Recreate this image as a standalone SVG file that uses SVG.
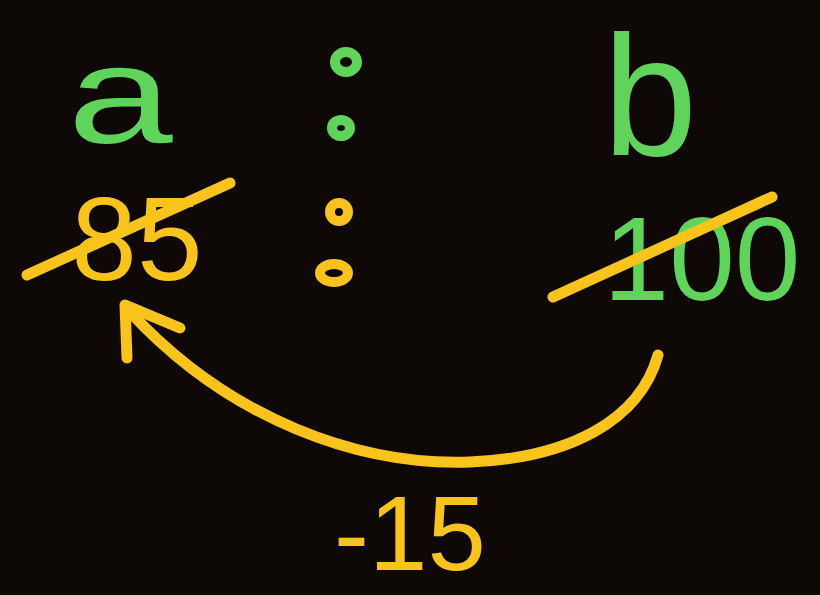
<svg xmlns="http://www.w3.org/2000/svg" width="820" height="595" viewBox="0 0 820 595">
<style>
.g{fill:#5fd35a;font-family:"Liberation Sans",Arial,sans-serif}
.y{fill:#f7c31c;font-family:"Liberation Sans",Arial,sans-serif}
.ys{stroke:#f7c31c;stroke-width:11;stroke-linecap:round;stroke-linejoin:round;fill:none}
.ring-g{fill:none;stroke:#5fd35a;stroke-width:10}
.ring-y{fill:none;stroke:#f7c31c;stroke-width:10}
</style>
<rect width="820" height="595" fill="#0e0807"/>
<g id="label-a"><text class="g" transform="translate(120,143) scale(1.35,1)" x="0" y="0" font-size="140" text-anchor="middle">a</text></g>
<g id="label-b"><text class="g" x="650" y="155" font-size="170" text-anchor="middle">b</text></g>
<g id="colon">
<ellipse class="ring-g" cx="346" cy="62" rx="11" ry="10"/>
<ellipse class="ring-g" cx="341" cy="128" rx="9" ry="8"/>
<ellipse class="ring-y" cx="339" cy="212" rx="9" ry="9"/>
<ellipse class="ring-y" cx="334" cy="273" rx="14" ry="9"/>
</g>
<g id="value-a"><text class="y" x="137" y="280" font-size="118" text-anchor="middle">85</text>
<line class="ys" x1="27" y1="275" x2="230" y2="183"/></g>
<g id="value-b"><text class="g" x="702" y="300" font-size="118" text-anchor="middle">100</text>
<line class="ys" x1="553" y1="297" x2="772" y2="197"/></g>
<g id="connectors">
<path class="ys" d="M658,355 C640,420 570,458 470,462 C360,466 230,420 130,312"/>
<path class="ys" d="M127,358 L125,305 L180,328"/>
</g>
<g id="delta"><text class="y" x="410" y="570" font-size="105" text-anchor="middle">-15</text></g>
</svg>
